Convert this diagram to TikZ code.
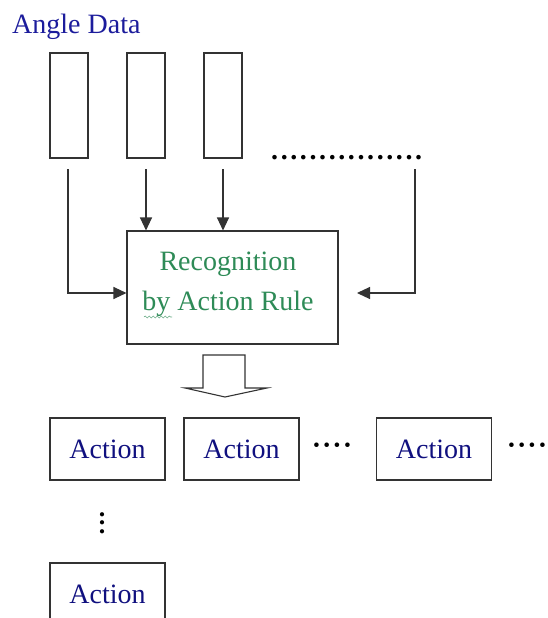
\documentclass[tikz,border=0pt]{standalone}
\usepackage{fontspec}
\setmainfont{Liberation Serif}
\usetikzlibrary{arrows.meta,decorations.pathmorphing}
\definecolor{lineg}{HTML}{333333}
\definecolor{angleblue}{HTML}{1C1C9C}
\definecolor{actblue}{HTML}{10107F}
\definecolor{recgreen}{HTML}{2E8B57}
\newcommand\mydotrow{.\kern2.6pt.\kern2.6pt.\kern2.6pt.\kern2.6pt.\kern2.6pt.\kern2.6pt.\kern2.6pt.\kern2.6pt.\kern2.6pt.\kern2.6pt.\kern2.6pt.\kern2.6pt.\kern2.6pt.\kern2.6pt.\kern2.6pt.}
\newcommand\mymiddots{\textbf{\textperiodcentered\kern1pt\textperiodcentered\kern1pt\textperiodcentered\kern1pt\textperiodcentered}}
\tikzset{
  databox/.style={draw=lineg,line width=1.1pt,minimum width=38pt,minimum height=105pt,inner sep=0pt},
  mainbox/.style={draw=lineg,line width=1.1pt,minimum width=211pt,minimum height=113pt,inner sep=0pt},
  actbox/.style={draw=lineg,line width=1.1pt,minimum width=115pt,minimum height=62pt,inner sep=0pt,
     text=actblue,font=\fontsize{28}{32}\selectfont},
  conn/.style={draw=lineg,line width=1.1pt,-{Triangle[length=13pt,width=12pt]}},
  txt/.style={inner sep=0pt,font=\fontsize{28}{32}\selectfont},
  vdot/.style={inner sep=0pt,font=\fontsize{26}{30}\selectfont\bfseries,text height=4pt,text depth=0pt},
}
\begin{document}
\begin{tikzpicture}[x=1pt,y=-1pt]
\useasboundingbox (0,0) rectangle (548,618);
\clip (0,0) rectangle (548,618);
\fill[white] (0,0) rectangle (548,618);
% title
\node[txt,text=angleblue,anchor=base west] (title) at (12,34) {Angle Data};
% data boxes
\node[databox] (d1) at (69,105.5) {};
\node[databox] (d2) at (146,105.5) {};
\node[databox] (d3) at (223,105.5) {};
\node[txt,anchor=base west,font=\fontsize{28}{32}\selectfont\bfseries] (drow) at (271,159) {\mydotrow};
% main box
\node[mainbox] (rec) at (232.5,287.5) {};
\node[txt,text=recgreen,align=center,font=\fontsize{28}{40}\selectfont] (rectext) at (228,284) {Recognition\\by Action Rule};
\draw[recgreen!70,line width=0.6pt,decorate,decoration={snake,amplitude=1pt,segment length=4pt}] (144,317) -- (172,317);
% connectors
\coordinate (s1) at (68,169);
\coordinate (s2) at (146,169);
\coordinate (s3) at (223,169);
\coordinate (s4) at (415,169);
\coordinate (e4) at (357,293);
\draw[conn] (s1) |- (rec.west |- 0,293);
\draw[conn] (s2) -- (rec.north -| s2);
\draw[conn] (s3) -- (rec.north -| s3);
\draw[conn] (s4) |- (e4);
% block arrow
\draw[lineg,line width=1.1pt,fill=white,line join=miter] (203,355) -- (245,355) -- (245,388) -- (267,388) -- (225,397) -- (185,388) -- (203,388) -- cycle;
% action boxes
\node[actbox] (a1) at (107.5,449) {Action};
\node[actbox] (a2) at (241.5,449) {Action};
\node[actbox] (a3) at (434,449) {Action};
\node[actbox] (a4) at (107.5,594) {Action};
\node[txt,anchor=center] (m1) at (332,449) {\mymiddots};
\node[txt,anchor=center] (m2) at (527,449) {\mymiddots};
\node[vdot,anchor=base] (vd1) at (102,516) {.};
\node[vdot,anchor=base] (vd2) at (102,524.5) {.};
\node[vdot,anchor=base] (vd3) at (102,533) {.};
\end{tikzpicture}
\end{document}
